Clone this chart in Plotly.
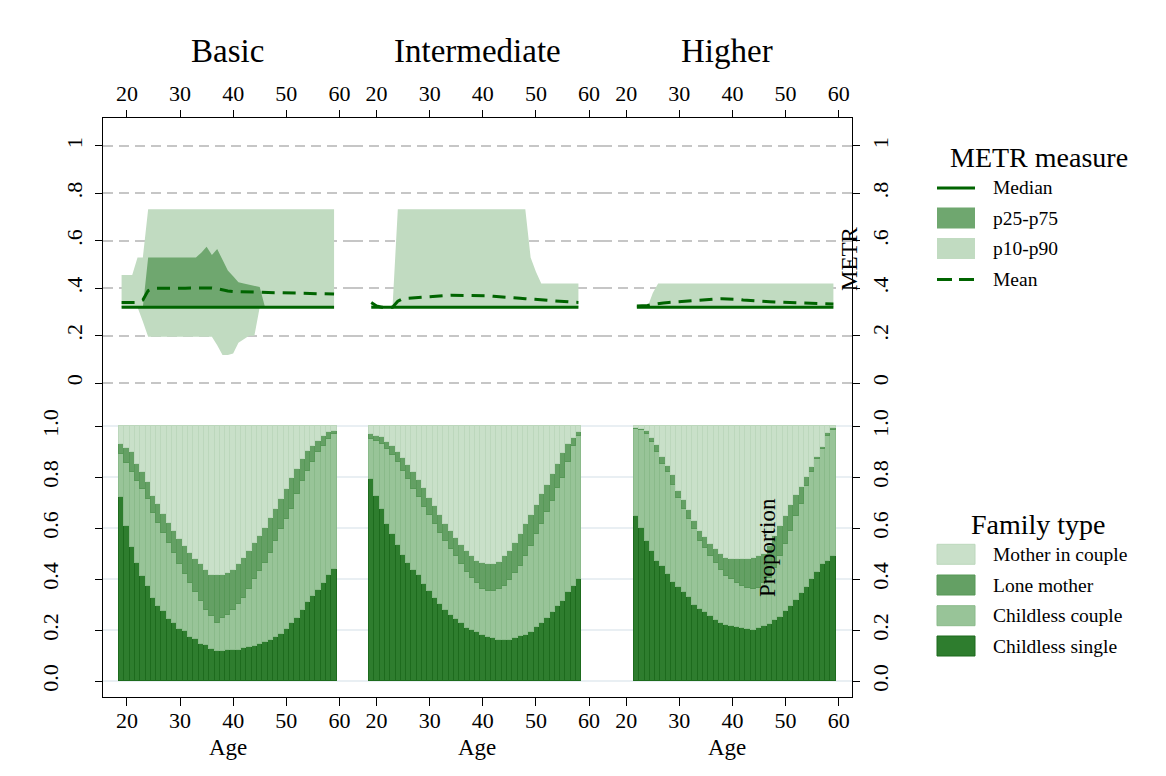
import plotly.graph_objects as go

FONT = "Liberation Serif, Times New Roman, Times, serif"

# ---------------- data ----------------
ages_basic = list(range(19, 60))    # 41 ages
ages_inter = list(range(19, 59))    # 40 ages
ages_higher = list(range(22, 60))   # 38 ages

# METR measures (top row)
median_basic = [0.32, 0.32, 0.32, 0.32, 0.32, 0.32, 0.32, 0.32, 0.32, 0.32, 0.32, 0.32, 0.32, 0.32,
                0.32, 0.32, 0.32, 0.32, 0.32, 0.32, 0.32, 0.32, 0.32, 0.32, 0.32, 0.32, 0.32, 0.32,
                0.32, 0.32, 0.32, 0.32, 0.32, 0.32, 0.32, 0.32, 0.32, 0.32, 0.32, 0.32, 0.32]
mean_basic = [0.34, 0.34, 0.34, 0.34, 0.35, 0.39, 0.40, 0.40, 0.398, 0.397, 0.398, 0.399, 0.40, 0.401,
              0.401, 0.402, 0.402, 0.401, 0.398, 0.392, 0.388, 0.386, 0.385, 0.384, 0.384, 0.383, 0.383,
              0.382, 0.382, 0.381, 0.381, 0.380, 0.380, 0.379, 0.379, 0.378, 0.378, 0.377, 0.377, 0.376, 0.376]
p10_basic = [0.32, 0.32, 0.32, 0.32, 0.26, 0.195, 0.195, 0.195, 0.195, 0.195, 0.195, 0.195, 0.195, 0.195,
             0.195, 0.195, 0.195, 0.195, 0.16, 0.118, 0.118, 0.125, 0.17, 0.185, 0.20, 0.20, 0.32, 0.32,
             0.32, 0.32, 0.32, 0.32, 0.32, 0.32, 0.32, 0.32, 0.32, 0.32, 0.32, 0.32, 0.32]
p90_basic = [0.456, 0.456, 0.456, 0.53, 0.53, 0.733, 0.733, 0.733, 0.733, 0.733, 0.733, 0.733, 0.733, 0.733,
             0.733, 0.733, 0.733, 0.733, 0.733, 0.733, 0.733, 0.733, 0.733, 0.733, 0.733, 0.733, 0.733, 0.733,
             0.733, 0.733, 0.733, 0.733, 0.733, 0.733, 0.733, 0.733, 0.733, 0.733, 0.733, 0.733, 0.733]
p25_basic = [0.32, 0.32, 0.32, 0.32, 0.32, 0.32, 0.32, 0.32, 0.32, 0.32, 0.32, 0.32, 0.32, 0.32,
             0.32, 0.32, 0.32, 0.32, 0.32, 0.32, 0.32, 0.32, 0.32, 0.32, 0.32, 0.32, 0.32, 0.32,
             0.32, 0.32, 0.32, 0.32, 0.32, 0.32, 0.32, 0.32, 0.32, 0.32, 0.32, 0.32, 0.32]
p75_basic = [0.32, 0.32, 0.32, 0.32, 0.32, 0.53, 0.53, 0.53, 0.53, 0.53, 0.53, 0.53, 0.53, 0.53,
             0.53, 0.55, 0.575, 0.54, 0.565, 0.52, 0.475, 0.45, 0.425, 0.42, 0.415, 0.41, 0.405, 0.32,
             0.32, 0.32, 0.32, 0.32, 0.32, 0.32, 0.32, 0.32, 0.32, 0.32, 0.32, 0.32, 0.32]

median_inter = [0.32, 0.32, 0.32, 0.32, 0.32, 0.32, 0.32, 0.32, 0.32, 0.32, 0.32, 0.32, 0.32, 0.32,
                0.32, 0.32, 0.32, 0.32, 0.32, 0.32, 0.32, 0.32, 0.32, 0.32, 0.32, 0.32, 0.32, 0.32,
                0.32, 0.32, 0.32, 0.32, 0.32, 0.32, 0.32, 0.32, 0.32, 0.32, 0.32, 0.32]
mean_inter = [0.34, 0.325, 0.32, 0.32, 0.32, 0.345, 0.357, 0.358, 0.36, 0.362, 0.364, 0.366, 0.367, 0.368,
              0.369, 0.37, 0.37, 0.371, 0.371, 0.37, 0.37, 0.369, 0.368, 0.366, 0.365, 0.363, 0.362, 0.36,
              0.358, 0.356, 0.354, 0.352, 0.35, 0.348, 0.347, 0.345, 0.344, 0.342, 0.341, 0.34]
p10_inter = [0.32, 0.32, 0.32, 0.32, 0.32, 0.32, 0.32, 0.32, 0.32, 0.32, 0.32, 0.32, 0.32, 0.32,
             0.32, 0.32, 0.32, 0.32, 0.32, 0.32, 0.32, 0.32, 0.32, 0.32, 0.32, 0.32, 0.32, 0.32,
             0.32, 0.32, 0.32, 0.32, 0.32, 0.32, 0.32, 0.32, 0.32, 0.32, 0.32, 0.32]
p90_inter = [0.34, 0.325, 0.32, 0.32, 0.32, 0.733, 0.733, 0.733, 0.733, 0.733, 0.733, 0.733, 0.733, 0.733,
             0.733, 0.733, 0.733, 0.733, 0.733, 0.733, 0.733, 0.733, 0.733, 0.733, 0.733, 0.733, 0.733, 0.733,
             0.733, 0.733, 0.53, 0.47, 0.42, 0.42, 0.42, 0.42, 0.42, 0.42, 0.42, 0.42]

median_higher = [0.32, 0.32, 0.32, 0.32, 0.32, 0.32, 0.32, 0.32, 0.32, 0.32, 0.32, 0.32, 0.32,
                 0.32, 0.32, 0.32, 0.32, 0.32, 0.32, 0.32, 0.32, 0.32, 0.32, 0.32, 0.32, 0.32,
                 0.32, 0.32, 0.32, 0.32, 0.32, 0.32, 0.32, 0.32, 0.32, 0.32, 0.32, 0.32]
mean_higher = [0.325, 0.325, 0.327, 0.332, 0.336, 0.338, 0.34, 0.342, 0.344, 0.346, 0.348, 0.35, 0.352,
               0.353, 0.354, 0.355, 0.356, 0.356, 0.355, 0.353, 0.35, 0.348, 0.346, 0.345, 0.344, 0.343,
               0.342, 0.341, 0.34, 0.34, 0.339, 0.338, 0.338, 0.337, 0.336, 0.335, 0.334, 0.333]
p10_higher = [0.32, 0.32, 0.32, 0.32, 0.32, 0.32, 0.32, 0.32, 0.32, 0.32, 0.32, 0.32, 0.32,
              0.32, 0.32, 0.32, 0.32, 0.32, 0.32, 0.32, 0.32, 0.32, 0.32, 0.32, 0.32, 0.32,
              0.32, 0.32, 0.32, 0.32, 0.32, 0.32, 0.32, 0.32, 0.32, 0.32, 0.32, 0.32]
p90_higher = [0.32, 0.32, 0.32, 0.38, 0.42, 0.42, 0.42, 0.42, 0.42, 0.42, 0.42, 0.42, 0.42,
              0.42, 0.42, 0.42, 0.42, 0.42, 0.42, 0.42, 0.42, 0.42, 0.42, 0.42, 0.42, 0.42,
              0.42, 0.42, 0.42, 0.42, 0.42, 0.42, 0.42, 0.42, 0.42, 0.42, 0.42, 0.42]

# Family type shares (bottom row): cumulative tops of each stacked band
single_basic = [0.722, 0.609, 0.525, 0.462, 0.413, 0.374, 0.327, 0.294, 0.276, 0.245, 0.230, 0.206, 0.195, 0.172,
                0.165, 0.146, 0.142, 0.127, 0.120, 0.117, 0.121, 0.121, 0.122, 0.131, 0.136, 0.139, 0.147, 0.155,
                0.160, 0.173, 0.184, 0.205, 0.228, 0.248, 0.278, 0.310, 0.335, 0.357, 0.386, 0.416, 0.442]
couple_top_basic = [0.891, 0.856, 0.819, 0.786, 0.753, 0.714, 0.661, 0.622, 0.583, 0.543, 0.504, 0.458, 0.419,
                    0.386, 0.349, 0.314, 0.281, 0.255, 0.228, 0.248, 0.261, 0.281, 0.301, 0.327, 0.360, 0.399,
                    0.432, 0.465, 0.504, 0.550, 0.596, 0.635, 0.675, 0.734, 0.786, 0.825, 0.858, 0.898, 0.924,
                    0.950, 0.970]
lone_top_basic = [0.930, 0.913, 0.898, 0.852, 0.819, 0.780, 0.727, 0.694, 0.655, 0.622, 0.589, 0.556, 0.530,
                  0.504, 0.480, 0.458, 0.438, 0.416, 0.416, 0.416, 0.423, 0.438, 0.458, 0.484, 0.510, 0.543,
                  0.570, 0.602, 0.642, 0.675, 0.714, 0.753, 0.799, 0.832, 0.871, 0.904, 0.924, 0.944, 0.963,
                  0.976, 0.983]

single_inter = [0.793, 0.727, 0.675, 0.615, 0.576, 0.533, 0.496, 0.462, 0.438, 0.415, 0.383, 0.353, 0.325,
                0.303, 0.281, 0.259, 0.244, 0.228, 0.207, 0.202, 0.192, 0.182, 0.173, 0.168, 0.16, 0.16,
                0.163, 0.168, 0.176, 0.181, 0.192, 0.213, 0.228, 0.248, 0.273, 0.294, 0.316, 0.35, 0.373, 0.40]
couple_top_inter = [0.950, 0.944, 0.930, 0.911, 0.887, 0.858, 0.825, 0.793, 0.753, 0.724, 0.685, 0.651, 0.615,
                    0.583, 0.550, 0.520, 0.491, 0.458, 0.428, 0.406, 0.386, 0.360, 0.353, 0.353, 0.360, 0.375,
                    0.396, 0.425, 0.451, 0.491, 0.530, 0.576, 0.615, 0.664, 0.707, 0.756, 0.799, 0.858, 0.921,
                    0.963]
lone_top_inter = [0.970, 0.963, 0.957, 0.940, 0.921, 0.898, 0.874, 0.848, 0.822, 0.790, 0.756, 0.720, 0.688,
                  0.651, 0.615, 0.589, 0.563, 0.533, 0.510, 0.491, 0.471, 0.462, 0.458, 0.458, 0.467, 0.491,
                  0.510, 0.543, 0.576, 0.615, 0.651, 0.690, 0.734, 0.769, 0.812, 0.852, 0.895, 0.930, 0.953,
                  0.976]

single_higher = [0.65, 0.60, 0.55, 0.51, 0.47, 0.45, 0.42, 0.39, 0.37, 0.35, 0.33, 0.30, 0.285, 0.27, 0.255,
                 0.24, 0.23, 0.222, 0.218, 0.213, 0.209, 0.203, 0.202, 0.207, 0.215, 0.224, 0.239, 0.252,
                 0.274, 0.294, 0.32, 0.345, 0.37, 0.40, 0.43, 0.46, 0.47, 0.49]
couple_top_higher = [0.99, 0.987, 0.97, 0.937, 0.90, 0.852, 0.82, 0.77, 0.72, 0.675, 0.635, 0.596, 0.55, 0.524,
                     0.491, 0.462, 0.438, 0.412, 0.399, 0.386, 0.373, 0.366, 0.36, 0.366, 0.386, 0.406, 0.445,
                     0.491, 0.537, 0.589, 0.648, 0.694, 0.766, 0.819, 0.871, 0.911, 0.96, 0.985]
lone_top_higher = [0.995, 0.99, 0.98, 0.955, 0.925, 0.88, 0.845, 0.81, 0.745, 0.71, 0.67, 0.63, 0.59, 0.565,
                   0.54, 0.52, 0.50, 0.485, 0.48, 0.48, 0.48, 0.48, 0.485, 0.49, 0.50, 0.53, 0.57, 0.61, 0.65,
                   0.69, 0.73, 0.76, 0.80, 0.84, 0.88, 0.92, 0.975, 0.995]

panel_titles = ["Basic", "Intermediate", "Higher"]
x_ticks = [20, 30, 40, 50, 60]
metr_ticks = [0, 0.2, 0.4, 0.6, 0.8, 1]
metr_ticktext = ["0", ".2", ".4", ".6", ".8", "1"]
prop_ticks = [0, 0.2, 0.4, 0.6, 0.8, 1.0]
prop_ticktext = ["0.0", "0.2", "0.4", "0.6", "0.8", "1.0"]
metr_legend = ["Median", "p25-p75", "p10-p90", "Mean"]
family_legend = ["Mother in couple", "Lone mother", "Childless couple", "Childless single"]

# ---------------- style ----------------
C_MED = "#006400"
C_P2575 = "#6fa76f"
C_P1090 = "#c1dbc1"
C_SINGLE, L_SINGLE = "#2e7d2e", "#1d6b1d"
C_COUPLE, L_COUPLE = "#98c498", "#8aba8a"
C_LONE, L_LONE = "#64a064", "#579857"
C_MOTHER, L_MOTHER = "#c9e0c9", "#bcd7bc"
MEAN_DASH = "13px,8px"

# page offset (default body margin) compensated: all screen positions below are window pixels
OFF = 8
W, H = 1166 - 2 * OFF, 776 - 2 * OFF
PLOT_L, PLOT_R, PLOT_T, PLOT_B = 103, 852, 118, 697   # plot area in window pixels
ML, MT = PLOT_L - OFF, PLOT_T - OFF
MR = W - (PLOT_R - OFF)
MB = H - (PLOT_B - OFF)
PW = PLOT_R - PLOT_L
PH = PLOT_B - PLOT_T
SPLIT = (PLOT_B - 398) / PH


def px(x):
    return (x - PLOT_L) / PW


def py(y):
    return (PLOT_B - y) / PH


fig = go.Figure()

panels = [
    dict(ages=ages_basic, med=median_basic, mean=mean_basic, p10=p10_basic, p90=p90_basic,
         p25=p25_basic, p75=p75_basic, single=single_basic, ctop=couple_top_basic, ltop=lone_top_basic),
    dict(ages=ages_inter, med=median_inter, mean=mean_inter, p10=p10_inter, p90=p90_inter,
         p25=None, p75=None, single=single_inter, ctop=couple_top_inter, ltop=lone_top_inter),
    dict(ages=ages_higher, med=median_higher, mean=mean_higher, p10=p10_higher, p90=p90_higher,
         p25=None, p75=None, single=single_higher, ctop=couple_top_higher, ltop=lone_top_higher),
]

for c, p in enumerate(panels):
    xt = "x" if c == 0 else f"x{c + 1}"
    yt = "y" if c == 0 else f"y{c + 1}"
    xb = f"x{c + 4}"
    yb = f"y{c + 4}"
    a = p["ages"]
    # p10-p90 band
    fig.add_trace(go.Scatter(x=a, y=p["p10"], mode="lines", line=dict(width=0, color=C_P1090),
                             xaxis=xt, yaxis=yt, showlegend=False, hoverinfo="skip"))
    fig.add_trace(go.Scatter(x=a, y=p["p90"], mode="lines", line=dict(width=0, color=C_P1090),
                             fill="tonexty", fillcolor=C_P1090, xaxis=xt, yaxis=yt, showlegend=False))
    if p["p25"] is not None:
        fig.add_trace(go.Scatter(x=a, y=p["p25"], mode="lines", line=dict(width=0, color=C_P2575),
                                 xaxis=xt, yaxis=yt, showlegend=False, hoverinfo="skip"))
        fig.add_trace(go.Scatter(x=a, y=p["p75"], mode="lines", line=dict(width=0, color=C_P2575),
                                 fill="tonexty", fillcolor=C_P2575, xaxis=xt, yaxis=yt, showlegend=False))
    fig.add_trace(go.Scatter(x=a, y=p["med"], mode="lines", line=dict(width=3, color=C_MED),
                             xaxis=xt, yaxis=yt, showlegend=False))
    fig.add_trace(go.Scatter(x=a, y=p["mean"], mode="lines",
                             line=dict(width=3, color=C_MED, dash=MEAN_DASH),
                             xaxis=xt, yaxis=yt, showlegend=False))

    # stacked family-type bars
    single = p["single"]
    couple = [round(t - s, 4) for t, s in zip(p["ctop"], single)]
    lone = [round(t - s, 4) for t, s in zip(p["ltop"], p["ctop"])]
    mother = [round(1 - t, 4) for t in p["ltop"]]
    for vals, col, lcol, name in [(single, C_SINGLE, L_SINGLE, "Childless single"),
                                  (couple, C_COUPLE, L_COUPLE, "Childless couple"),
                                  (lone, C_LONE, L_LONE, "Lone mother"),
                                  (mother, C_MOTHER, L_MOTHER, "Mother in couple")]:
        fig.add_trace(go.Bar(x=a, y=vals, name=name, marker=dict(color=col, line=dict(color=lcol, width=1)),
                             width=1, xaxis=xb, yaxis=yb, showlegend=False))

tickfont = dict(family=FONT, size=22, color="black")
layout = dict(
    width=W, height=H, margin=dict(l=ML, r=MR, t=MT, b=MB),
    paper_bgcolor="white", plot_bgcolor="white",
    barmode="stack", bargap=0, showlegend=False,
    font=dict(family=FONT, color="black"),
)

for i in range(6):
    row, col = divmod(i, 3)
    n = i + 1
    xk = "xaxis" if n == 1 else f"xaxis{n}"
    yk = "yaxis" if n == 1 else f"yaxis{n}"
    xa = "x" if n == 1 else f"x{n}"
    ya = "y" if n == 1 else f"y{n}"
    ydom = [SPLIT, 1] if row == 0 else [0, SPLIT]
    layout[xk] = dict(domain=[col / 3, (col + 1) / 3], anchor=ya, range=[15.5, 62.5],
                      tickvals=x_ticks, ticks="outside", ticklen=7 if row == 0 else 8, tickwidth=1,
                      tickcolor="black",
                      showline=True, linecolor="black", linewidth=1, showgrid=False, zeroline=False,
                      side="top" if row == 0 else "bottom", tickfont=tickfont, fixedrange=True)
    if row == 1:
        layout[xk]["ticklabelstandoff"] = -4
    outer = col in (0, 2)
    if row == 0:
        yrng, tv, tt = [-0.063, 1.118], metr_ticks, metr_ticktext
        grid = dict(gridcolor="#c6c6c6", gridwidth=1.5, griddash="10px,6px")
    else:
        yrng, tv, tt = [-0.062, 1.111], prop_ticks, prop_ticktext
        grid = dict(gridcolor="#e9eff3", gridwidth=1.5)
    layout[yk] = dict(domain=ydom, anchor=xa, range=yrng, tickvals=tv, ticktext=tt,
                      showgrid=True, zeroline=False, showline=outer, linecolor="black", linewidth=1,
                      ticks="outside" if outer else "", ticklen=7, tickwidth=1, tickcolor="black",
                      showticklabels=outer, tickangle=-90, tickfont=tickfont,
                      side="right" if col == 2 else "left", fixedrange=True, **grid)
    if col == 0 and row == 0:
        layout[yk]["ticklabelstandoff"] = 4
    if col == 0 and row == 1:
        layout[yk]["ticklabelstandoff"] = 28
    if col == 2:
        layout[yk]["ticklabelstandoff"] = 2

fig.update_layout(**layout)

ann = []
for c, t in enumerate(panel_titles):
    ann.append(dict(text=t, xref="x domain" if c == 0 else f"x{c + 1} domain", x=0.5,
                    yref="paper", y=py(51), xanchor="center", yanchor="middle", showarrow=False,
                    font=dict(family=FONT, size=33, color="black")))
    ann.append(dict(text="Age", xref=f"x{c + 4} domain", x=0.5, yref="paper", y=py(747),
                    xanchor="center", yanchor="middle", showarrow=False,
                    font=dict(family=FONT, size=23, color="black")))
ann.append(dict(text="METR", xref="paper", yref="paper", x=px(849), y=py(259), textangle=-90,
                xanchor="center", yanchor="middle", showarrow=False,
                font=dict(family=FONT, size=23, color="black")))
ann.append(dict(text="Proportion", xref="paper", yref="paper", x=px(767), y=py(548), textangle=-90,
                xanchor="center", yanchor="middle", showarrow=False,
                font=dict(family=FONT, size=23, color="black")))

# legends
shapes = []
ann.append(dict(text="METR measure", xref="paper", yref="paper", x=px(1039), y=py(157.5),
                xanchor="center", yanchor="middle", showarrow=False,
                font=dict(family=FONT, size=28, color="black")))
metr_rows = [188, 218, 248.5, 279.5]
for name, yy in zip(metr_legend, metr_rows):
    if name == "Median":
        shapes.append(dict(type="line", xref="paper", yref="paper", x0=px(937), x1=px(975), y0=py(yy), y1=py(yy),
                           line=dict(color=C_MED, width=3)))
    elif name == "Mean":
        shapes.append(dict(type="line", xref="paper", yref="paper", x0=px(937), x1=px(975), y0=py(yy), y1=py(yy),
                           line=dict(color=C_MED, width=3, dash="15px,7px")))
    else:
        colr = C_P2575 if name == "p25-p75" else C_P1090
        shapes.append(dict(type="rect", xref="paper", yref="paper", x0=px(937), x1=px(975),
                           y0=py(yy - 10.5), y1=py(yy + 10.5), fillcolor=colr, line=dict(width=0)))
    ann.append(dict(text=name, xref="paper", yref="paper", x=px(991), y=py(yy), xanchor="left",
                    yanchor="middle", showarrow=False, font=dict(family=FONT, size=19.5, color="black")))

ann.append(dict(text="Family type", xref="paper", yref="paper", x=px(1038.5), y=py(524),
                xanchor="center", yanchor="middle", showarrow=False,
                font=dict(family=FONT, size=28, color="black")))
fam_rows = [554.3, 585, 615.7, 646]
fam_cols = [(C_MOTHER, L_MOTHER), (C_LONE, L_LONE), (C_COUPLE, L_COUPLE), (C_SINGLE, L_SINGLE)]
for name, yy, (fc, lc) in zip(family_legend, fam_rows, fam_cols):
    shapes.append(dict(type="rect", xref="paper", yref="paper", x0=px(937), x1=px(975),
                       y0=py(yy - 10), y1=py(yy + 10), fillcolor=fc, line=dict(color=lc, width=1)))
    ann.append(dict(text=name, xref="paper", yref="paper", x=px(991), y=py(yy), xanchor="left",
                    yanchor="middle", showarrow=False, font=dict(family=FONT, size=19.5, color="black")))

fig.update_layout(annotations=ann, shapes=shapes)
fig.write_html("out.html")
